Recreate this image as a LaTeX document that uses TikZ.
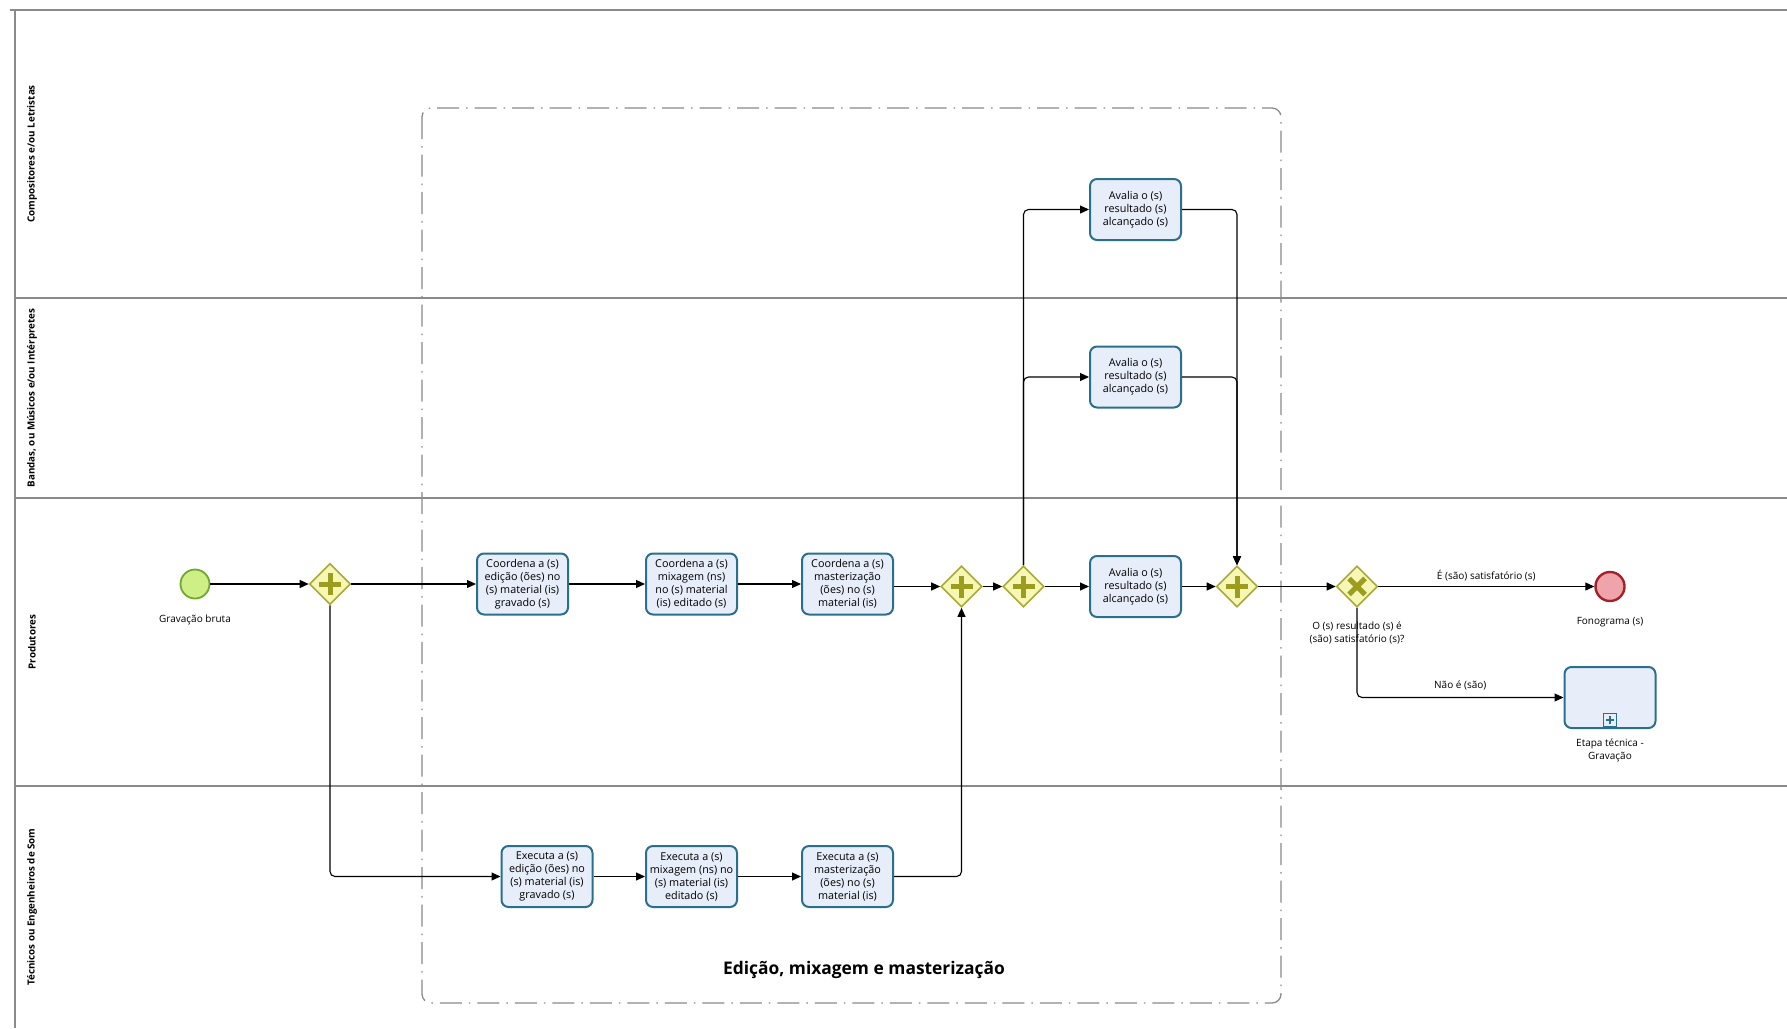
\documentclass[tikz,border=0pt]{standalone}
\usepackage{fontspec}
\setmainfont{Open Sans}
\usetikzlibrary{shapes.geometric,arrows.meta}
\definecolor{taskfill}{HTML}{E8EDFA}
\definecolor{taskdraw}{HTML}{2B6F8E}
\definecolor{gwfill}{HTML}{F7F7B5}
\definecolor{gwdraw}{HTML}{A9A93A}
\definecolor{gwmark}{HTML}{9C9C1E}
\definecolor{startfill}{HTML}{CDEF86}
\definecolor{startdraw}{HTML}{6FA82C}
\definecolor{endfill}{HTML}{EFA3AA}
\definecolor{enddraw}{HTML}{A3222A}
\definecolor{laneline}{HTML}{8A8A8A}
\tikzset{
  task/.style={draw=taskdraw, fill=taskfill, line width=2pt, rounded corners=7pt,
    minimum width=91pt, minimum height=61pt, inner sep=0pt, align=center,
    font=\fontsize{10.8}{13}\selectfont},
  gwbase/.style={diamond, draw=gwdraw, fill=gwfill, line width=1.6pt,
    minimum width=41pt, minimum height=41pt, inner sep=0pt, aspect=1},
  gwand/.style={gwbase, path picture={
    \draw[gwmark, line width=5pt]
      ([xshift=-11pt]path picture bounding box.center) -- ([xshift=11pt]path picture bounding box.center)
      ([yshift=-11pt]path picture bounding box.center) -- ([yshift=11pt]path picture bounding box.center);}},
  gwxor/.style={gwbase, path picture={
    \draw[gwmark, line width=5pt]
      ([xshift=-8pt,yshift=-8pt]path picture bounding box.center) -- ([xshift=8pt,yshift=8pt]path picture bounding box.center)
      ([xshift=-8pt,yshift=8pt]path picture bounding box.center) -- ([xshift=8pt,yshift=-8pt]path picture bounding box.center);}},
  startev/.style={circle, draw=startdraw, fill=startfill, line width=1.8pt, minimum size=29pt, inner sep=0pt},
  endev/.style={circle, draw=enddraw, fill=endfill, line width=2.4pt, minimum size=29pt, inner sep=0pt},
  flow/.style={-{Triangle[length=9pt,width=8pt]}, line width=1.1pt, rounded corners=5pt},
  lbl/.style={font=\fontsize{10}{13}\selectfont, align=center, inner sep=0pt},
  lanelbl/.style={rotate=90, font=\bfseries\fontsize{9.8}{11}\selectfont, inner sep=0pt},
  lane/.style={draw=laneline, line width=1.1pt},
  grp/.style={draw=laneline, line width=1.3pt, rounded corners=9pt,
    dash pattern=on 22pt off 7pt on 1.5pt off 7pt}
}
\begin{document}
\begin{tikzpicture}[x=1pt,y=-1pt]
\useasboundingbox[fill=white] (0,0) rectangle (1787,1028);
% pool and lanes
\draw[lane] (10,10) -- (1787,10);
\draw[lane] (15,10) -- (15,1028);
\draw[lane] (15,298) -- (1787,298);
\draw[lane] (15,498) -- (1787,498);
\draw[lane] (15,786) -- (1787,786);
\node[lanelbl] (l1) at (32,154) {Compositores e/ou Letristas};
\node[lanelbl] (l2) at (32,398) {Bandas, ou Músicos e/ou Intérpretes};
\node[lanelbl] (l3) at (32,642) {Produtores};
\node[lanelbl] (l4) at (32,907) {Técnicos ou Engenheiros de Som};
% group
\draw[grp] (422,108) rectangle (1281,1003);
\node[font=\bfseries\fontsize{17.4}{20}\selectfont] (gt) at (864,970) {Edição, mixagem e masterização};
% nodes
\node[startev] (start) at (195,584) {};
\node[lbl] (startl) at (195,620) {Gravação bruta};
\node[gwand] (g1) at (330,584) {};
\node[task] (c1) at (522.5,584) {Coordena a (s)\\edição (ões) no\\(s) material (is)\\gravado (s)};
\node[task] (c2) at (691.5,584) {Coordena a (s)\\mixagem (ns)\\no (s) material\\(is) editado (s)};
\node[task] (c3) at (847.5,584) {Coordena a (s)\\masterização\\(ões) no (s)\\material (is)};
\node[gwand] (g2) at (961.5,586.5) {};
\node[gwand] (g3) at (1023.5,586.5) {};
\node[task] (ap) at (1135.5,586.5) {Avalia o (s)\\resultado (s)\\alcançado (s)};
\node[task] (ac) at (1135.5,209.5) {Avalia o (s)\\resultado (s)\\alcançado (s)};
\node[task] (ab) at (1135.5,377) {Avalia o (s)\\resultado (s)\\alcançado (s)};
\node[gwand] (g4) at (1237,586.5) {};
\node[gwxor] (x1) at (1357,586.5) {};
\node[lbl] (x1l) at (1357,633) {O (s) resultado (s) é\\(são) satisfatório (s)?};
\node[endev] (fin) at (1610,586.5) {};
\node[lbl] (finl) at (1610,622) {Fonograma (s)};
\node[task] (sub) at (1610,697.5) {};
\node[draw=taskdraw, fill=taskfill, line width=1.6pt, minimum size=13pt, inner sep=0pt,
  path picture={\draw[taskdraw, line width=2.6pt]
    ([xshift=-4pt]path picture bounding box.center) -- ([xshift=4pt]path picture bounding box.center)
    ([yshift=-4pt]path picture bounding box.center) -- ([yshift=4pt]path picture bounding box.center);}]
  (subm) at (1610,720) {};
\node[lbl] (subl) at (1610,750) {Etapa técnica -\\Gravação};
\node[task] (e1) at (547,876.5) {Executa a (s)\\edição (ões) no\\(s) material (is)\\gravado (s)};
\node[task] (e2) at (691.5,876.5) {Executa a (s)\\mixagem (ns) no\\(s) material (is)\\editado (s)};
\node[task] (e3) at (847.5,876.5) {Executa a (s)\\masterização\\(ões) no (s)\\material (is)};
% flows
\draw[flow] (start) -- (g1);
\draw[flow] (g1) -- (c1);
\draw[flow] (c1) -- (c2);
\draw[flow] (c2) -- (c3);
\draw[flow] (c3.east |- g2) -- (g2);
\draw[flow] (g2) -- (g3);
\draw[flow] (g3) -- (ap);
\draw[flow] (g3.north) |- (ac.west);
\draw[flow] (g3.north) |- (ab.west);
\draw[flow] (ac.east) -| (g4.north);
\draw[flow] (ab.east) -| (g4.north);
\draw[flow] (ap) -- (g4);
\draw[flow] (g4) -- (x1);
\draw[flow] (x1) -- node[lbl, above=5pt] {É (são) satisfatório (s)} (fin);
\draw[flow] (x1.south) |- node[lbl, above=7pt, pos=0.75] {Não é (são)} (sub.west);
\draw[flow] (g1.south) |- (e1.west);
\draw[flow] (e1) -- (e2);
\draw[flow] (e2) -- (e3);
\draw[flow] (e3.east) -| (g2.south);
\end{tikzpicture}
\end{document}
